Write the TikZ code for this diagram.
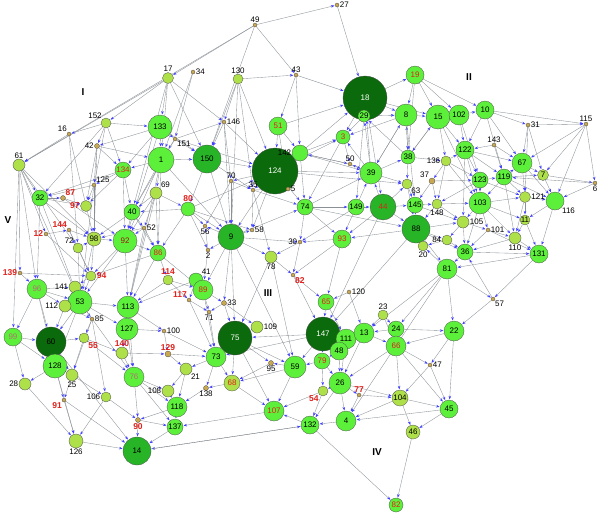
\documentclass[tikz,border=0pt]{standalone}
\usepackage{fontspec}
\setmainfont{Liberation Sans}
\usetikzlibrary{arrows.meta,backgrounds}
\definecolor{dk}{HTML}{0B6A0B}
\definecolor{md}{HTML}{27B527}
\definecolor{lg}{HTML}{5CF03A}
\definecolor{sm}{HTML}{AEE04A}
\definecolor{tn}{HTML}{C8A850}
\definecolor{rd}{HTML}{E0201B}
\definecolor{gr}{HTML}{B07070}
\definecolor{ec}{HTML}{8A9096}
\tikzset{nd/.style={circle,draw=black!70,line width=0.3pt,inner sep=0pt,font=\fontsize{8}{8}\selectfont},
edge/.style={draw=ec,line width=0.35pt,-{Stealth[length=3.5pt,width=2.6pt,color=blue!75]},shorten >=0.5pt},
rom/.style={font=\bfseries\fontsize{10}{10}\selectfont}}
\newcommand\ND[6]{\node[nd,minimum size=#4pt,fill=#5,text=#6] (n#1) at (#2,#3) {#1};}
\newcommand\NL[7]{\node[nd,minimum size=#4pt,fill=#5,label={[inner sep=0.5pt,font=\fontsize{8}{8}\selectfont,text=#6]#7:#1}] (n#1) at (#2,#3) {};}
\newcommand\NR[7]{\node[nd,minimum size=#4pt,fill=#5,label={[inner sep=0.5pt,font=\bfseries\fontsize{8.5}{8.5}\selectfont,text=#6]#7:#1}] (n#1) at (#2,#3) {};}
\begin{document}
\begin{tikzpicture}[x=1pt,y=-1pt]
\useasboundingbox (0,0) rectangle (600,512);
% nodes
\NL{49}{255}{25}{4}{tn}{black}{above}
\NL{27}{337}{5}{4}{tn}{black}{right}
\NL{17}{168}{78}{11}{sm}{black}{above}
\NL{34}{193}{72}{4}{tn}{black}{right}
\NL{130}{238}{79}{10}{sm}{black}{above}
\NL{43}{296}{75}{4}{tn}{black}{above}
\NL{152}{106}{123}{10}{sm}{black}{above left}
\NL{16}{69}{134}{4}{tn}{black}{above left}
\ND{133}{160}{127}{24}{lg}{black}
\NL{151}{175}{139}{4}{tn}{black}{below right}
\NL{146}{224}{122}{4}{tn}{black}{right}
\ND{51}{278}{126}{18}{lg}{rd}
\NL{42}{97}{146}{5}{tn}{black}{left}
\ND{1}{161}{160}{26}{lg}{black}
\ND{150}{207}{159}{28}{md}{black}
\ND{124}{275}{171}{46}{dk}{white}
\NL{142}{300}{153}{16}{lg}{black}{left}
\NL{61}{19}{165}{12}{sm}{black}{above}
\ND{134}{123}{170}{16}{lg}{rd}
\NL{125}{94}{185}{4}{tn}{black}{above right}
\NL{70}{231}{181}{4}{tn}{black}{above}
\NL{35}{253}{190}{4}{tn}{black}{above}
\NL{5}{288}{189}{4}{tn}{black}{right}
\NL{69}{156}{193}{12}{sm}{black}{above right}
\ND{32}{40}{198}{16}{lg}{black}
\NR{87}{63}{198}{5}{tn}{rd}{above right}
\NR{97}{86}{206}{11}{sm}{rd}{left}
\NR{80}{188}{209}{14}{lg}{rd}{above}
\ND{40}{132}{212}{16}{lg}{black}
\NL{52}{144}{228}{4}{tn}{black}{right}
\NL{56}{205}{226}{4}{tn}{black}{below}
\NL{58}{252}{230}{4}{tn}{black}{right}
\ND{9}{231}{237}{26}{md}{black}
\ND{74}{305}{207}{16}{lg}{black}
\NR{12}{46}{234}{4}{tn}{rd}{left}
\NR{144}{69}{230}{4}{tn}{rd}{above left}
\NL{72}{78}{248}{10}{sm}{black}{above left}
\ND{98}{94}{239}{14}{sm}{black}
\ND{92}{125}{241}{24}{lg}{rd!70!black}
\ND{86}{158}{253}{16}{lg}{rd}
\NL{2}{208}{250}{4}{tn}{black}{below}
\ND{149}{356}{207}{16}{lg}{black}
\ND{44}{383}{207}{26}{md}{rd}
\ND{39}{371}{173}{22}{lg}{black}
\ND{38}{408}{157}{14}{lg}{black}
\ND{18}{365}{98}{44}{dk}{white}
\ND{29}{364}{116}{12}{lg}{black}
\ND{19}{415}{75}{18}{lg}{rd}
\ND{8}{406}{115}{22}{lg}{black}
\ND{15}{438}{117}{24}{lg}{black}
\ND{102}{459}{115}{20}{lg}{black}
\ND{10}{485}{110}{18}{lg}{black}
\NL{31}{528}{125}{4}{tn}{black}{right}
\NL{115}{586}{124}{4}{tn}{black}{above}
\NL{143}{494}{145}{4}{tn}{black}{above}
\ND{3}{343}{137}{14}{lg}{rd}
\NL{50}{350}{164}{4}{tn}{black}{above}
\NL{63}{407}{184}{10}{sm}{black}{below right}
\NL{136}{446}{161}{10}{sm}{black}{left}
\NL{37}{432}{181}{6}{tn}{black}{above left}
\ND{122}{465}{150}{18}{lg}{black}
\ND{123}{480}{180}{16}{lg}{black}
\ND{119}{504}{177}{16}{lg}{black}
\ND{67}{522}{163}{20}{lg}{black}
\ND{7}{543}{175}{11}{sm}{black}
\NL{6}{595}{183}{4}{tn}{black}{below}
\NL{148}{437}{204}{10}{sm}{black}{below}
\ND{145}{415}{205}{16}{lg}{black}
\ND{103}{480}{203}{22}{lg}{black}
\NL{121}{525}{197}{11}{sm}{black}{right}
\NL{116}{555}{201}{18}{lg}{black}{below right}
\ND{11}{525}{220}{10}{sm}{black}
\ND{88}{416}{229}{28}{md}{black}
\NL{105}{463}{222}{12}{sm}{black}{right}
\NL{84}{447}{240}{10}{sm}{black}{left}
\NL{101}{488}{230}{4}{tn}{black}{right}
\NL{110}{515}{238}{12}{sm}{black}{below}
\NL{20}{423}{246}{10}{sm}{black}{below}
\ND{36}{465}{252}{16}{lg}{black}
\ND{131}{539}{254}{18}{lg}{black}
\ND{93}{342}{239}{18}{lg}{rd}
\NL{30}{300}{242}{4}{tn}{black}{left}
\NL{78}{271}{257}{12}{sm}{black}{below}
\NR{82}{293}{275}{4}{tn}{rd}{below right}
\ND{81}{447}{269}{20}{lg}{black}
\NL{57}{493}{299}{4}{tn}{black}{below right}
\NL{120}{349}{292}{4}{tn}{black}{right}
\ND{65}{326}{302}{16}{lg}{rd}
\NL{23}{383}{315}{10}{sm}{black}{above}
\ND{24}{396}{329}{16}{lg}{black}
\ND{22}{454}{331}{20}{lg}{black}
\ND{147}{323}{334}{34}{dk}{white}
\ND{111}{346}{339}{20}{lg}{black}
\ND{13}{364}{333}{20}{lg}{black}
\ND{66}{396}{346}{20}{lg}{rd}
\ND{48}{339}{351}{18}{lg}{black}
\ND{79}{322}{361}{16}{lg}{rd}
\NL{47}{430}{365}{4}{tn}{black}{right}
\ND{26}{340}{383}{22}{lg}{black}
\NR{77}{359}{395}{4}{tn}{rd}{above}
\NR{54}{323}{391}{10}{sm}{rd}{below left}
\ND{104}{400}{398}{16}{sm}{black}
\ND{45}{449}{409}{18}{lg}{black}
\ND{4}{346}{421}{20}{lg}{black}
\ND{132}{310}{425}{18}{lg}{black}
\ND{46}{413}{432}{14}{sm}{black}
\node[nd,minimum size=14pt,fill=lg,text=rd] (n82b) at (396,505) {82};
\NR{139}{20}{273}{4}{tn}{rd}{left}
\NR{94}{91}{276}{10}{sm}{rd}{right}
\ND{96}{37}{289}{20}{lg}{gr}
\NL{141}{75}{287}{12}{sm}{black}{left}
\ND{53}{80}{302}{24}{lg}{black}
\NL{112}{65}{306}{12}{sm}{black}{left}
\NR{114}{168}{280}{10}{sm}{rd}{above}
\NL{41}{196}{280}{14}{lg}{black}{above right}
\ND{89}{203}{290}{20}{lg}{rd}
\NR{117}{189}{300}{4}{tn}{rd}{above left}
\NL{33}{224}{303}{5}{tn}{black}{right}
\NL{71}{209}{312}{4}{tn}{black}{below}
\ND{113}{128}{307}{22}{lg}{black}
\NL{85}{92}{319}{4}{tn}{black}{right}
\ND{127}{127}{329}{22}{lg}{black}
\NL{100}{164}{331}{4}{tn}{black}{right}
\NL{109}{257}{327}{12}{sm}{black}{right}
\ND{75}{235}{338}{34}{dk}{white}
\ND{99}{13}{337}{18}{lg}{gr}
\ND{60}{51}{342}{30}{dk}{black}
\NR{55}{84}{338}{10}{sm}{rd}{below right}
\NR{140}{122}{353}{12}{sm}{rd}{above}
\NR{129}{168}{354}{6}{tn}{rd}{above}
\ND{73}{216}{357}{20}{lg}{black}
\ND{59}{295}{367}{22}{lg}{black}
\ND{128}{55}{366}{24}{lg}{black}
\NL{25}{72}{375}{12}{sm}{black}{below}
\NL{21}{186}{369}{12}{sm}{black}{below right}
\NL{95}{271}{363}{5}{tn}{black}{below}
\ND{76}{134}{377}{20}{lg}{gr}
\ND{68}{232}{383}{16}{sm}{rd}
\NL{28}{25}{384}{12}{sm}{black}{left}
\NL{138}{206}{388}{5}{tn}{black}{below}
\NL{108}{168}{391}{12}{sm}{black}{left}
\NL{106}{106}{397}{10}{sm}{black}{left}
\NR{91}{64}{400}{4}{tn}{rd}{below left}
\ND{118}{177}{407}{20}{lg}{black}
\ND{107}{274}{411}{20}{lg}{rd}
\NR{90}{138}{420}{5}{tn}{rd}{below}
\ND{137}{175}{427}{16}{lg}{black}
\NL{126}{76}{441}{14}{sm}{black}{below}
\ND{14}{137}{451}{28}{md}{black}
% region labels
\node[rom] (rI) at (83,92) {I};
\node[rom] (rII) at (469,77) {II};
\node[rom] (rIII) at (268,293) {III};
\node[rom] (rIV) at (377,452) {IV};
\node[rom] (rV) at (8,220) {V};
\begin{scope}[on background layer]
\foreach \a/\b in {49/17,49/27,49/43,49/150,49/61,27/18,17/133,17/1,17/152,17/61,17/146,17/150,17/40,34/151,34/1,130/124,130/43,130/146,130/9,130/35,130/150,43/18,43/142,43/51,152/133,152/16,152/42,152/134,152/32,152/125,16/72,16/98,16/61,133/1,133/151,133/150,133/42,133/134,133/92,151/150,151/1,151/124,151/40,151/146,146/150,146/70,146/124,146/9,51/124,51/142,51/18,51/5,42/1,42/125,42/97,42/98,42/134,1/150,1/134,1/69,1/86,1/40,1/92,1/113,1/9,150/124,150/35,150/9,150/80,124/142,124/35,124/5,124/70,124/74,124/9,124/58,124/3,124/39,124/63,142/3,142/74,142/39,142/18,142/50,61/32,61/53,61/96,61/99,61/12,61/139,61/98,61/72,134/32,134/40,134/97,134/92,134/125,125/32,125/98,125/97,125/53,70/35,70/9,70/56,35/5,35/74,35/58,35/78,69/40,69/92,69/80,69/52,69/86,69/113,32/87,32/97,32/98,32/53,32/96,87/97,87/92,80/9,80/56,80/58,80/2,80/86,80/40,80/124,40/52,40/98,40/92,40/86,52/92,52/98,52/86,52/113,9/58,9/74,9/30,9/78,9/2,9/56,9/89,9/75,9/33,9/59,74/30,74/149,74/39,74/93,74/88,12/144,12/94,144/98,144/72,144/94,72/98,72/94,72/53,98/92,98/94,98/53,92/86,92/94,92/113,92/53,86/113,86/114,86/94,86/89,2/56,2/89,149/44,149/39,149/93,149/30,44/39,44/145,44/88,44/63,44/93,44/147,39/38,39/18,39/29,39/3,39/50,39/63,39/8,38/8,38/15,38/136,38/63,38/29,18/29,18/3,18/8,18/19,18/15,18/44,29/3,29/8,29/149,19/8,19/15,19/102,19/10,19/38,8/15,8/39,8/38,8/3,8/145,15/102,15/122,15/136,15/103,15/38,102/10,102/122,102/123,10/31,10/115,10/122,10/67,10/119,31/67,31/7,31/115,31/121,115/6,115/67,115/7,115/116,143/122,143/119,143/67,3/50,3/74,50/39,50/142,63/145,63/88,136/122,136/123,136/37,136/148,136/103,37/123,37/148,37/145,122/123,122/119,122/103,122/67,122/105,123/119,123/103,123/121,123/148,119/67,119/7,119/121,119/103,119/116,119/110,67/7,67/116,67/121,7/6,7/116,6/116,6/119,148/103,148/88,148/105,145/88,145/148,145/105,103/121,103/11,103/105,103/101,103/36,103/110,121/116,121/11,121/110,116/131,116/11,11/110,11/131,88/84,88/20,88/81,88/36,88/93,88/105,88/147,105/84,105/36,105/101,84/36,84/20,101/110,101/131,101/36,110/131,110/36,36/81,36/131,131/81,131/57,93/30,93/82,93/65,30/82,30/78,78/82,78/75,78/59,82/65,82/147,81/57,81/22,81/20,81/24,81/13,81/4,57/22,57/36,120/65,120/13,65/147,65/111,23/24,23/13,23/66,24/22,24/66,24/13,22/66,22/45,22/47,147/111,147/48,147/79,147/59,147/73,147/75,111/13,111/48,111/26,13/66,13/26,66/104,66/47,66/26,66/45,48/79,48/26,79/26,79/54,79/59,47/45,47/104,26/77,26/4,26/104,26/132,26/54,77/104,77/4,54/132,54/107,104/45,104/46,104/4,45/46,45/4,46/82b,132/82b,132/107,132/14,4/132,139/96,139/94,94/53,94/141,96/141,96/53,96/99,96/60,96/112,141/53,141/112,53/112,53/113,53/85,53/60,53/128,53/127,112/60,112/85,114/113,114/89,114/117,41/89,41/117,41/113,89/33,89/71,89/73,117/71,117/73,33/75,33/109,33/71,71/73,113/127,113/100,113/140,85/55,85/25,85/106,127/100,127/140,127/76,100/129,100/73,109/75,75/95,75/73,75/59,75/68,75/107,99/60,99/28,60/128,60/55,60/25,55/140,55/25,55/76,140/76,140/129,129/21,129/73,73/21,73/68,73/138,59/95,59/107,59/68,128/25,128/28,128/91,128/126,25/106,25/91,21/108,21/118,95/68,76/108,76/118,76/90,76/137,68/138,68/107,28/126,138/118,108/118,106/90,106/126,91/126,91/14,118/137,118/90,107/137,90/137,90/14,137/14,126/14,14/132,113/76,53/76,60/14,99/128,96/128}
  \draw[edge] (n\a) -- (n\b);
\end{scope}
\end{tikzpicture}
\end{document}
